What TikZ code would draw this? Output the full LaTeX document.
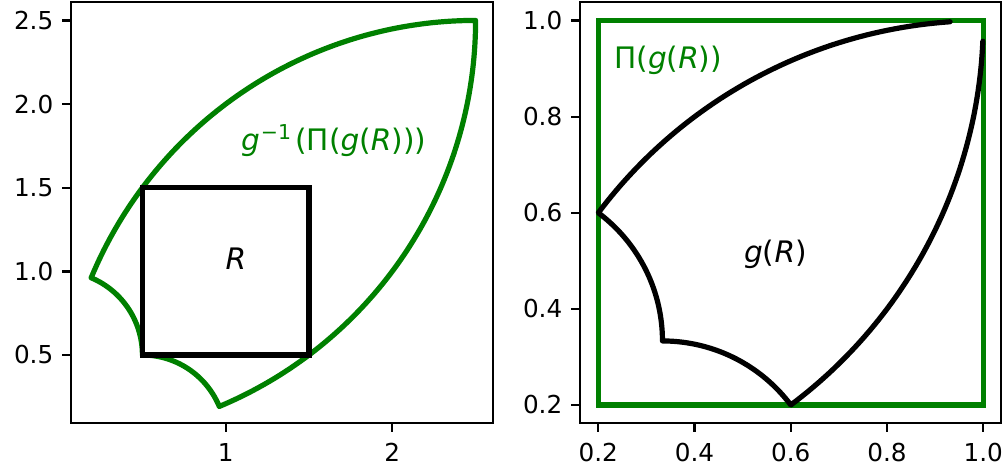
\documentclass[tikz,border=0pt]{standalone}
\usepackage{fontspec}
\setmainfont{DejaVu Sans}
\definecolor{mplgreen}{HTML}{008000}
\tikzset{
  spine/.style={line width=2.3pt, black},
  tickmark/.style={line width=2.3pt, black},
  ticklbl/.style={font=\fontsize{24.7}{26}\selectfont, inner sep=0pt},
  curvegreen/.style={mplgreen, line width=5.2pt, line join=round, line cap=round},
  curveblack/.style={black, line width=5.2pt, line join=round, line cap=round},
  boxline/.style={line width=5.2pt, line join=miter},
  mathlbl/.style={font=\fontsize{29.6}{31}\selectfont, inner sep=0pt},
}
\newcommand\mysup[1]{\kern1pt\raisebox{11pt}{\fontsize{20.5}{22}\selectfont #1}\kern4pt}
\begin{document}
\begin{tikzpicture}[x=1pt,y=-1pt]
\useasboundingbox (0,0) rectangle (1002,471);

% ---------------- left axes ----------------
\draw[spine] (71,2) rectangle (493,423);
\foreach \v/\p [count=\i] in {2.5/20.4, 2.0/104.05, 1.5/187.7, 1.0/271.35, 0.5/355} {
  \draw[tickmark] (62,\p) -- (71,\p);
  \node[ticklbl, anchor=east] (ly\i) at (53.5,\p) {\v};
}
\foreach \v/\p [count=\i] in {1/225.7, 2/392.3} {
  \draw[tickmark] (\p,423) -- (\p,432);
  \node[ticklbl, anchor=north] (lx\i) at (\p,443) {\v};
}

\begin{scope}[shift={(59.1pt,-438.65pt)}, x=166.6pt, y=167.3pt]
  % inversion of the square [0.2,1]^2
  \draw[curvegreen]
    plot[domain=90:157.38, samples=80, variable=\t] ({2.5+2.5*cos(\t)},{2.5*sin(\t)})
    -- plot[domain=67.38:0, samples=50, variable=\t] ({0.5*cos(\t)},{0.5+0.5*sin(\t)})
    -- plot[domain=90:22.62, samples=50, variable=\t] ({0.5+0.5*cos(\t)},{0.5*sin(\t)})
    -- plot[domain=-67.38:0, samples=80, variable=\t] ({2.5*cos(\t)},{2.5+2.5*sin(\t)})
    -- cycle;
  \draw[boxline, black] (0.5,0.5) rectangle (1.5,1.5);
\end{scope}

\node[mathlbl] (Rlbl) at (236,259) {\itshape R};
\node[mathlbl, text=mplgreen, anchor=base west] (preimg) at (241,150)
  {{\itshape g}\mysup{−1}(Π({\itshape g}({\itshape R})))};

% ---------------- right axes ----------------
\draw[spine] (580,2) rectangle (1000.7,423);
\foreach \v/\p [count=\i] in {1.0/20.6, 0.8/116.7, 0.6/212.8, 0.4/308.9, 0.2/405} {
  \draw[tickmark] (571,\p) -- (580,\p);
  \node[ticklbl, anchor=east] (ry\i) at (562.5,\p) {\v};
}
\foreach \v/\p [count=\i] in {0.2/598.3, 0.4/694.55, 0.6/790.8, 0.8/887.05, 1.0/983.3} {
  \draw[tickmark] (\p,423) -- (\p,432);
  \node[ticklbl, anchor=north] (rx\i) at (\p,443) {\v};
}

\begin{scope}[shift={(502.05pt,-501.1pt)}, x=481.25pt, y=480.5pt]
  \draw[boxline, mplgreen] (0.2,0.2) rectangle (1,1);
  % inversion of R = [0.5,1.5]^2
  \draw[curveblack]
    plot[domain=93.96:143.13, samples=60, variable=\t] ({1+cos(\t)},{sin(\t)})
    -- plot[domain=53.13:0, samples=50, variable=\t] ({cos(\t)/3},{1/3+sin(\t)/3})
    -- plot[domain=90:36.87, samples=50, variable=\t] ({1/3+cos(\t)/3},{sin(\t)/3})
    -- plot[domain=-53.13:-2.46, samples=60, variable=\t] ({cos(\t)},{1+sin(\t)});
\end{scope}

\node[mathlbl, text=mplgreen, anchor=base west] (pilbl) at (614,68)
  {Π({\itshape g}({\itshape R}))};
\node[mathlbl, anchor=base west] (glbl) at (744,262)
  {{\itshape g}({\itshape R})};
\end{tikzpicture}
\end{document}
